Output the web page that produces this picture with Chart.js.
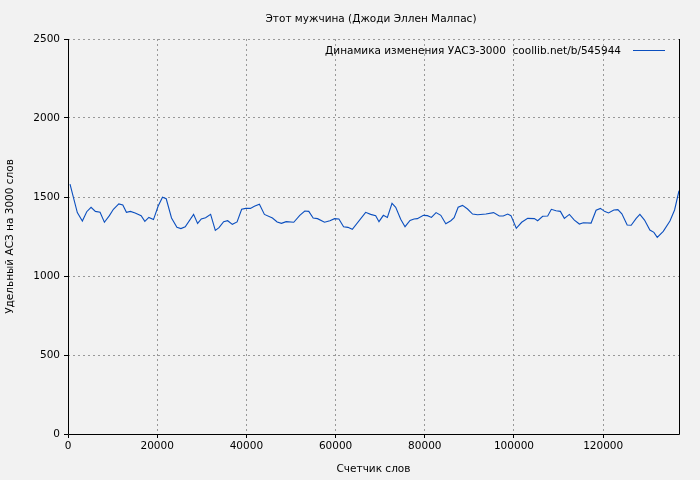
<!DOCTYPE html>
<html><head><meta charset="utf-8">
<script src="https://cdn.jsdelivr.net/npm/chart.js@4"></script>
<style>body{margin:0;background:#f2f2f2}</style>
</head><body>
<canvas id="c" width="700" height="480"></canvas>
<script>
const words = [449,2090,3220,4200,5170,6140,7190,8160,9280,10180,11390,12290,13100,14000,15050,16400,17230,18130,19170,20220,21190,22020,23210,24420,25320,26290,28160,29060,29890,30850,31980,33030,33860,34900,35800,36850,37910,38940,39840,40900,41790,42920,44040,45840,46900,47860,48920,50620,51970,53090,53990,54970,55950,57520,58720,59770,60740,61790,62760,63750,66740,67860,68990,69730,70710,71610,72650,73480,74600,75570,76690,77590,78340,79690,80590,81490,82530,83590,84710,85840,86580,87480,88460,89590,90710,91840,93710,95430,96700,97590,98590,99320,100520,101720,103070,104570,105310,106430,107560,108380,109430,110400,111290,112420,113540,114660,115560,117290,118410,119380,120290,121190,122390,123290,124190,125380,126280,127400,128230,129270,130470,131370,132120,133470,134970,136010,137000];
const values = [1582,1401,1348,1407,1435,1409,1403,1340,1382,1422,1456,1449,1403,1409,1399,1382,1346,1371,1357,1443,1498,1489,1367,1308,1300,1312,1390,1333,1361,1369,1390,1289,1306,1344,1350,1327,1342,1422,1428,1428,1441,1454,1390,1367,1342,1333,1344,1340,1384,1411,1409,1367,1363,1340,1350,1363,1361,1312,1308,1296,1403,1390,1382,1344,1384,1371,1460,1435,1359,1312,1352,1361,1363,1384,1382,1371,1401,1384,1331,1350,1369,1435,1447,1424,1392,1388,1392,1401,1380,1380,1392,1382,1302,1340,1365,1363,1350,1378,1380,1422,1413,1409,1365,1390,1354,1329,1337,1335,1416,1428,1409,1399,1418,1420,1394,1323,1321,1365,1390,1354,1291,1276,1245,1283,1348,1418,1540];
const xTicks = [0,20000,40000,60000,80000,100000,120000];
const title = "Этот мужчина (Джоди Эллен Малпас)";
const legendText = "Динамика изменения УАСЗ-3000  coollib.net/b/545944";

Chart.defaults.font.family = "DejaVu Sans";
Chart.defaults.font.size = 10.5;
Chart.defaults.color = "#000";

const extras = {
  id: "extras",
  beforeDraw(chart) {
    const c = chart.ctx;
    c.save();
    c.fillStyle = "#f2f2f2";
    c.fillRect(0, 0, chart.width, chart.height);
    c.restore();
  },
  afterDraw(chart) {
    const c = chart.ctx, a = chart.chartArea;
    c.save();
    c.fillStyle = "#000";
    c.font = "10.5px DejaVu Sans";
    c.textAlign = "center";
    c.fillText(title, 371, 22);
    c.textAlign = "right";
    c.fillText(legendText, 621, 54);
    c.strokeStyle = "#0b4fbf";
    c.lineWidth = 1;
    c.beginPath(); c.moveTo(633, 50.5); c.lineTo(665, 50.5); c.stroke();
    c.strokeStyle = "#000";
    c.beginPath();
    c.moveTo(a.left + 0.5, a.top); c.lineTo(a.left + 0.5, a.bottom + 0.5);
    c.lineTo(a.right + 0.5, a.bottom + 0.5); c.lineTo(a.right + 0.5, a.top);
    c.stroke();
    c.restore();
  }
};

new Chart(document.getElementById("c"), {
  type: "line",
  data: { datasets: [{ data: words.map((w, i) => ({ x: w, y: values[i] })), borderColor: "#0b4fbf", borderWidth: 1.1, pointRadius: 0, tension: 0 }] },
  options: {
    responsive: false, animation: false,
    layout: { padding: { top: 39, right: 21, left: 0, bottom: 0 } },
    plugins: { legend: { display: false }, title: { display: false }, tooltip: { enabled: false } },
    scales: {
      x: {
        type: "linear", min: 0, max: 137000,
        afterBuildTicks: s => { s.ticks = xTicks.map(v => ({ value: v })); },
        afterFit: s => { s.height = 46; },
        ticks: { maxRotation: 0, padding: 2, callback: v => String(v) },
        grid: { color: "#999", tickLength: 4, tickColor: "#000", tickBorderDash: [] },
        border: { display: false, dash: [2, 3] },
        title: { display: true, text: "Счетчик слов", padding: { top: 4 } }
      },
      y: {
        min: 0, max: 2500,
        afterFit: s => { s.width = 68; },
        ticks: { stepSize: 500, padding: 4, callback: v => String(v) },
        grid: { color: "#999", tickLength: 4, tickColor: "#000", tickBorderDash: [] },
        border: { display: false, dash: [2, 3] },
        title: { display: true, text: "Удельный АСЗ на 3000 слов", padding: { bottom: 6 } }
      }
    }
  },
  plugins: [extras]
});
</script>
</body></html>
